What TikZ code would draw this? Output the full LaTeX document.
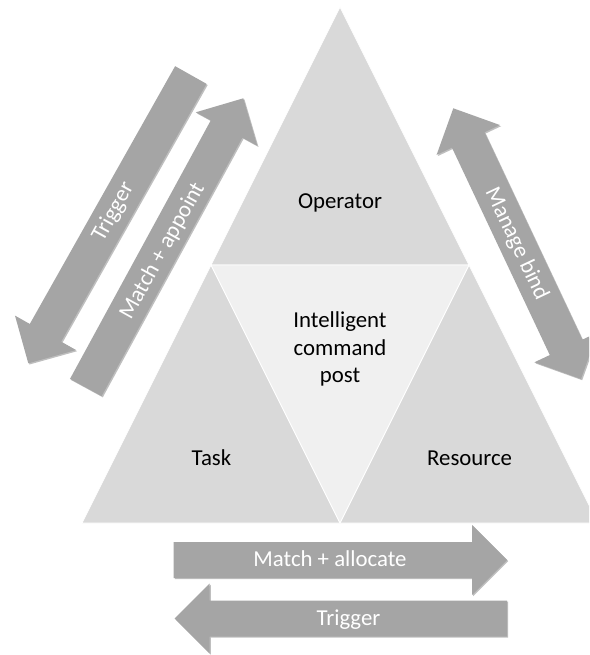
\documentclass[tikz,border=0pt]{standalone}
\usepackage{fontspec}
\setmainfont{Carlito}
\usetikzlibrary{calc,shadows}
\definecolor{tri}{HTML}{D9D9D9}
\definecolor{trimid}{HTML}{F0F0F0}
\definecolor{arr}{HTML}{A5A5A5}
\tikzset{
  sidetri/.style={fill=tri, draw=white, line width=0.8pt, line join=miter},
  midtri/.style={fill=trimid, draw=white, line width=0.8pt},
  lbl/.style={font=\fontsize{22.8}{27.4}\selectfont, text=black, inner sep=0pt, align=center},
  arrlbl/.style={font=\fontsize{22.8}{27.4}\selectfont, text=white, inner sep=0pt},
  arrowbody/.style={fill=arr, draw=none,
    drop shadow={shadow xshift=1.2pt, shadow yshift=-1.2pt, opacity=0.25, fill=black}}
}
% single arrow from tail #1 to tip #2
\newcommand{\mysinglearrow}[2]{%
  \coordinate (#2h) at ($(#2)!35pt!(#1)$);
  \path[arrowbody] ($(#1)!18pt!90:(#2)$) -- ($(#2h)!18pt!90:(#2)$) -- ($(#2h)!35pt!90:(#2)$)
    -- (#2) -- ($(#2h)!35pt!-90:(#2)$) -- ($(#2h)!18pt!-90:(#2)$) -- ($(#1)!18pt!-90:(#2)$) -- cycle;
}
% double arrow between #1 and #2
\newcommand{\mydoublearrow}[2]{%
  \coordinate (#1h) at ($(#1)!35pt!(#2)$);
  \coordinate (#2h) at ($(#2)!35pt!(#1)$);
  \path[arrowbody] (#1) -- ($(#1h)!35pt!90:(#2)$) -- ($(#1h)!18pt!90:(#2)$) -- ($(#2h)!18pt!90:(#2)$)
    -- ($(#2h)!35pt!90:(#2)$) -- (#2) -- ($(#2h)!35pt!-90:(#2)$) -- ($(#2h)!18pt!-90:(#2)$)
    -- ($(#1h)!18pt!-90:(#2)$) -- ($(#1h)!35pt!-90:(#2)$) -- cycle;
}
\begin{document}
\begin{tikzpicture}[x=1pt,y=-1pt]
\useasboundingbox (0,0) rectangle (589,655);
\fill[white] (0,0) rectangle (589,655);
\begin{scope}
\clip (0,0) rectangle (589,655);
% triangle corners
\coordinate (apex) at (340,7);
\coordinate (ml) at (211,265);
\coordinate (mr) at (469,265);
\coordinate (bl) at (82,523);
\coordinate (bm) at (340,523);
\coordinate (br) at (598,523);
\path[sidetri] (apex) -- (ml) -- (mr) -- cycle;
\path[sidetri] (ml) -- (bl) -- (bm) -- cycle;
\path[sidetri] (mr) -- (bm) -- (br) -- cycle;
\path[midtri] (ml) -- (mr) -- (bm) -- cycle;

% arrow end points
\coordinate (lta) at (190.8,75);
\coordinate (ltb) at (28.3,363.3);
\coordinate (lma) at (85.8,387.5);
\coordinate (lmb) at (243.3,98.3);
\coordinate (rma) at (453.3,108.3);
\coordinate (rmb) at (581,379);
\coordinate (bma) at (173.7,560);
\coordinate (bmb) at (507,560);
\coordinate (bta) at (507,618.5);
\coordinate (btb) at (174.7,618.5);

\mysinglearrow{lta}{ltb}
\mysinglearrow{lma}{lmb}
\mydoublearrow{rma}{rmb}
\mysinglearrow{bma}{bmb}
\mysinglearrow{bta}{btb}
\end{scope}

% labels
\node[lbl, anchor=base] (operator) at (340,208.5) {Operator};
\node[lbl] (icp) at (340,349) {Intelligent\\command\\post};
\node[lbl, anchor=base] (task) at (211.5,465.5) {Task};
\node[lbl, anchor=base] (resource) at (469.6,465.5) {Resource};

\node[arrlbl, rotate=61] (trigl) at (113.5,212) {Trigger};
\node[arrlbl, rotate=61] (matchapp) at (162.5,251) {Match + appoint};
\node[arrlbl, rotate=-64.7] (manage) at (516.5,244) {Manage bind};
\node[arrlbl, anchor=base] (matchalloc) at (330,566.6) {Match + allocate};
\node[arrlbl, anchor=base] (trigb) at (348.5,625.5) {Trigger};
\end{tikzpicture}
\end{document}
